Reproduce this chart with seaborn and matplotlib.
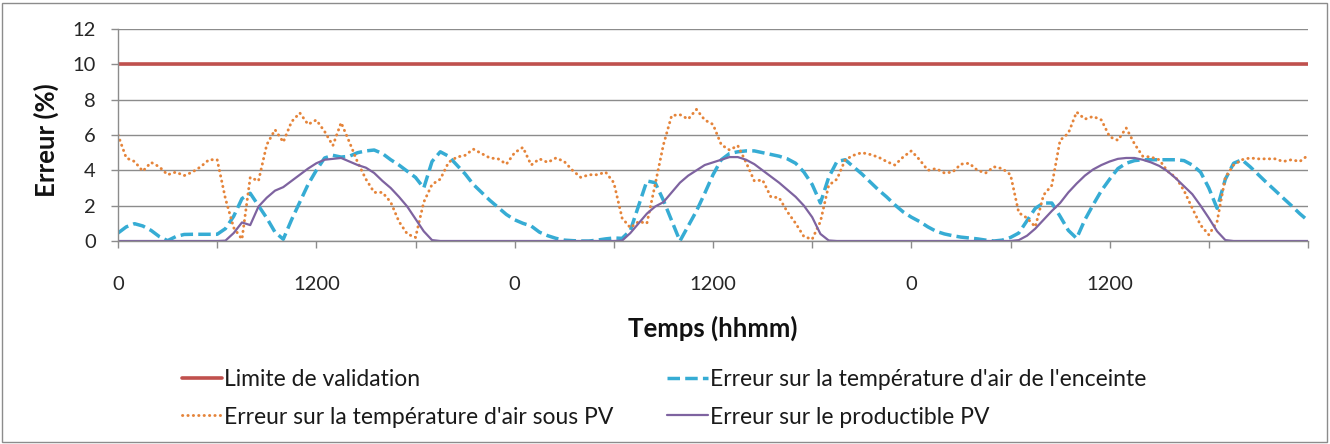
import numpy as np
import pandas as pd
import matplotlib
matplotlib.use("Agg")
import matplotlib.pyplot as plt
import seaborn as sns
from matplotlib.patches import Rectangle

# Time base: one sample every half hour over three days
PAS_HEURES = 0.5
DUREE_HEURES = 72
LIMITE_VALIDATION = 10.0

# Erreur sur la température d'air de l'enceinte (%)
ERREUR_ENCEINTE = [
    0.45, 0.8, 0.98, 0.85, 0.6, 0.25, 0.02, 0.25, 0.37, 0.38, 0.38, 0.38,
    0.38, 0.7, 1.4, 2.4, 2.7, 2.0, 1.3, 0.5, 0.1, 1.2, 2.2, 3.2,
    4.0, 4.7, 4.85, 4.75, 4.8, 5.0, 5.1, 5.15, 4.95, 4.6, 4.3, 3.95,
    3.6, 3.0, 4.5, 5.05, 4.8, 4.3, 3.8, 3.2, 2.75, 2.3, 1.9, 1.5,
    1.2, 1.0, 0.85, 0.5, 0.3, 0.15, 0.05, 0.02, 0.0, 0.0, 0.05, 0.12,
    0.17, 0.15, 0.6, 2.0, 3.4, 3.3, 2.3, 1.15, 0.0, 0.85, 1.7, 2.7,
    3.75, 4.6, 4.95, 5.05, 5.1, 5.1, 5.0, 4.9, 4.8, 4.65, 4.4, 3.9,
    3.2, 2.15, 3.6, 4.5, 4.6, 4.2, 3.8, 3.35, 2.9, 2.5, 2.05, 1.65,
    1.35, 1.1, 0.8, 0.55, 0.4, 0.3, 0.22, 0.17, 0.12, 0.05, 0.0, 0.05,
    0.2, 0.45, 1.15, 1.85, 2.15, 2.15, 1.4, 0.6, 0.15, 1.2, 2.05, 2.85,
    3.5, 4.1, 4.4, 4.55, 4.6, 4.6, 4.6, 4.6, 4.6, 4.55, 4.3, 3.9,
    3.0, 1.85, 3.5, 4.4, 4.6, 4.2, 3.75, 3.3, 2.87, 2.43, 2.0, 1.55,
    1.15,
]

# Erreur sur la température d'air sous PV (%)
ERREUR_SOUS_PV = [
    6.0, 4.7, 4.5, 3.95, 4.45, 4.2, 3.75, 3.9, 3.7, 3.9, 4.2, 4.6,
    4.6, 2.4, 0.75, 0.1, 3.6, 3.4, 5.45, 6.3, 5.6, 6.75, 7.25, 6.6,
    6.85, 6.2, 5.4, 6.7, 5.6, 4.45, 3.5, 2.75, 2.75, 2.2, 1.1, 0.4,
    0.2, 2.2, 3.2, 3.5, 4.45, 4.75, 4.85, 5.2, 4.95, 4.7, 4.65, 4.35,
    5.0, 5.3, 4.3, 4.65, 4.45, 4.7, 4.5, 4.0, 3.6, 3.75, 3.75, 3.9,
    3.3, 1.3, 0.75, 1.1, 1.0, 3.2, 5.45, 7.1, 7.15, 6.9, 7.45, 6.85,
    6.6, 5.45, 5.15, 5.4, 4.45, 3.4, 3.45, 2.5, 2.45, 1.65, 1.0, 0.25,
    0.1, 1.1, 3.15, 3.5, 4.6, 4.85, 5.0, 4.9, 4.75, 4.5, 4.3, 4.75,
    5.1, 4.6, 4.0, 4.1, 3.85, 3.9, 4.35, 4.4, 4.0, 3.85, 4.2, 4.1,
    3.75, 1.6, 1.3, 0.8, 2.6, 3.15, 5.7, 6.1, 7.3, 6.9, 7.05, 6.85,
    5.9, 5.7, 6.4, 5.5, 4.8, 4.75, 4.6, 3.95, 3.6, 2.85, 1.85, 0.9,
    0.35, 1.1, 3.6, 4.3, 4.6, 4.7, 4.65, 4.65, 4.65, 4.5, 4.6, 4.5,
    4.85,
]

# Erreur sur le productible PV (%)
ERREUR_PRODUCTIBLE = [
    0.0, 0.0, 0.0, 0.0, 0.0, 0.0, 0.0, 0.0, 0.0, 0.0, 0.0, 0.0,
    0.0, 0.02, 0.45, 1.05, 0.9, 1.95, 2.45, 2.85, 3.05, 3.4, 3.75, 4.1,
    4.4, 4.6, 4.65, 4.7, 4.5, 4.3, 4.15, 3.85, 3.4, 3.0, 2.5, 1.95,
    1.25, 0.55, 0.05, 0.0, 0.0, 0.0, 0.0, 0.0, 0.0, 0.0, 0.0, 0.0,
    0.0, 0.0, 0.0, 0.0, 0.0, 0.0, 0.0, 0.0, 0.0, 0.0, 0.0, 0.0,
    0.0, 0.02, 0.45, 1.0, 1.55, 1.95, 2.2, 2.75, 3.3, 3.7, 4.0, 4.3,
    4.45, 4.6, 4.75, 4.75, 4.6, 4.35, 4.0, 3.65, 3.3, 2.9, 2.5, 2.0,
    1.35, 0.4, 0.03, 0.0, 0.0, 0.0, 0.0, 0.0, 0.0, 0.0, 0.0, 0.0,
    0.0, 0.0, 0.0, 0.0, 0.0, 0.0, 0.0, 0.0, 0.0, 0.0, 0.0, 0.0,
    0.0, 0.05, 0.3, 0.7, 1.2, 1.7, 2.15, 2.75, 3.25, 3.7, 4.05, 4.3,
    4.5, 4.65, 4.7, 4.7, 4.6, 4.45, 4.25, 3.95, 3.55, 3.1, 2.65, 2.0,
    1.3, 0.55, 0.05, 0.0, 0.0, 0.0, 0.0, 0.0, 0.0, 0.0, 0.0, 0.0,
    0.0,
]

TICKS_HEURES = [0, 6, 12, 18, 24, 30, 36, 42, 48, 54, 60, 66, 72]
TICK_LABELS = ["0", "", "1200", "", "0", "", "1200", "", "0", "", "1200", "", ""]
Y_TICKS = [0, 2, 4, 6, 8, 10, 12]

LIB_LIMITE = "Limite de validation"
LIB_ENCEINTE = "Erreur sur la température d'air de l'enceinte"
LIB_SOUS_PV = "Erreur sur la température d'air sous PV"
LIB_PRODUCTIBLE = "Erreur sur le productible PV"

sns.set_theme(style="white")
plt.rcParams["font.family"] = ["Lato", "DejaVu Sans"]

heures = np.arange(0, DUREE_HEURES + PAS_HEURES / 2, PAS_HEURES)
df = pd.DataFrame({
    "heure": heures,
    "limite": np.full(len(heures), LIMITE_VALIDATION),
    "enceinte": ERREUR_ENCEINTE,
    "sous_pv": ERREUR_SOUS_PV,
    "productible": ERREUR_PRODUCTIBLE,
})

W, H = 1330, 444
fig = plt.figure(figsize=(W / 100, H / 100), dpi=100)
fig.patch.set_facecolor("white")
ax = fig.add_axes([118 / W, 1 - 241 / H, 1190 / W, 212 / H])

GRIS = "#8C8C8C"

sns.lineplot(data=df, x="heure", y="limite", ax=ax, color="#C0504D",
             lw=2.6, label=LIB_LIMITE, errorbar=None)
sns.lineplot(data=df, x="heure", y="enceinte", ax=ax, color="#36ACD4",
             lw=2.5, linestyle=(0, (3.6, 1.5)), label=LIB_ENCEINTE,
             errorbar=None)
sns.lineplot(data=df, x="heure", y="sous_pv", ax=ax, color="#E5843A",
             lw=2.1, linestyle=(0, (0.1, 1.75)), dash_capstyle="round",
             label=LIB_SOUS_PV, errorbar=None)
sns.lineplot(data=df, x="heure", y="productible", ax=ax, color="#7E63A0",
             lw=1.6, label=LIB_PRODUCTIBLE, errorbar=None)

ax.set_xlim(0, DUREE_HEURES)
ax.set_ylim(0, 12)
ax.set_xticks(TICKS_HEURES)
ax.set_xticklabels(TICK_LABELS)
ax.set_yticks(Y_TICKS)
ax.set_yticklabels([str(v) for v in Y_TICKS])

ax.yaxis.grid(True, color=GRIS, lw=1.0)
ax.xaxis.grid(False)
ax.set_axisbelow(True)
for side in ("top", "right"):
    ax.spines[side].set_visible(False)
for side in ("left", "bottom"):
    ax.spines[side].set_color(GRIS)
    ax.spines[side].set_linewidth(1.0)

ax.tick_params(axis="x", direction="out", length=5, width=1, color=GRIS,
               pad=20, labelsize=14.5, labelcolor="#262626", bottom=True)
ax.tick_params(axis="y", direction="out", length=5, width=1, color=GRIS,
               pad=11, labelsize=14.5, labelcolor="#262626", left=True)

ax.set_xlabel("Temps (hhmm)", fontsize=18.5, fontweight="bold", color="#111111")
ax.xaxis.set_label_coords(0.5, -0.35)
ax.set_ylabel("Erreur (%)", fontsize=18.5, fontweight="bold", color="#111111")
ax.yaxis.set_label_coords(-0.05, 0.475)

handles, labels = ax.get_legend_handles_labels()
ax.get_legend().remove()
ordre = [LIB_LIMITE, LIB_SOUS_PV, LIB_ENCEINTE, LIB_PRODUCTIBLE]
hmap = dict(zip(labels, handles))
fig.legend([hmap[k] for k in ordre], ordre, ncol=2, loc="upper left",
           bbox_to_anchor=(182 / W, 1 - 369 / H), frameon=False,
           fontsize=16.5, handlelength=1.75, handletextpad=0.09,
           columnspacing=2.35, labelspacing=0.72, borderpad=0,
           borderaxespad=0, labelcolor="#1a1a1a")

fig.add_artist(Rectangle((2 / W, 2 / H), (W - 5) / W, (H - 5) / H,
                         transform=fig.transFigure, fill=False,
                         edgecolor=GRIS, lw=1.0))

fig.savefig("out.png", dpi=100)
